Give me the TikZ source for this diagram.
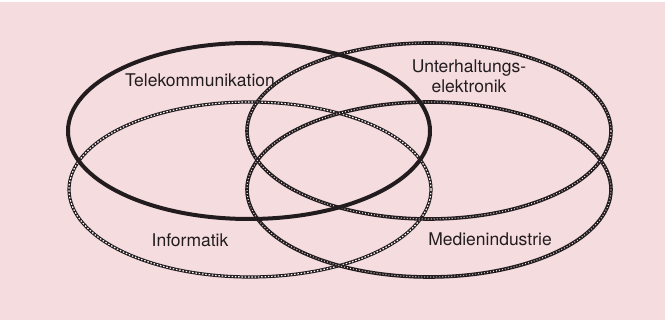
\documentclass[tikz,border=0pt]{standalone}
\usepackage{fontspec}
\setmainfont{TeX Gyre Heros}
\definecolor{bgpink}{HTML}{F5DCDF}
\definecolor{ink}{HTML}{221C1E}
\begin{document}
\begin{tikzpicture}[x=1pt,y=-1pt,
  solidring/.style={draw=ink,line width=4pt},
  ropebase/.style={draw=ink,line width=3.6pt},
  ropeover/.style={draw=bgpink!50!white,line width=1.1pt,dash pattern=on 0.8pt off 2.2pt},
  chainbase/.style={draw=ink,line width=3.2pt},
  chainover/.style={draw=white!85!bgpink,line width=1.2pt,dash pattern=on 1.5pt off 1.8pt},
  lbl/.style={font=\fontsize{17.5}{20}\selectfont,text=ink,inner sep=0pt,align=center}]
\useasboundingbox (0,0) rectangle (665,320);
\fill[bgpink] (0,0) rectangle (665,320);
\fill[white] (0,0) rectangle (665,2.5);
% ring centres
\coordinate (ct) at (249,131);
\coordinate (ci) at (250,189.5);
\coordinate (cu) at (429,131);
\coordinate (cm) at (429,189.5);
% Informatik (chain)
\draw[chainbase] (ci) ellipse [x radius=181,y radius=87.5];
\draw[chainover] (ci) ellipse [x radius=181,y radius=87.5];
% Medienindustrie (rope)
\draw[ropebase] (cm) ellipse [x radius=182,y radius=87.5];
\draw[ropeover] (cm) ellipse [x radius=182,y radius=87.5];
% Unterhaltungselektronik (rope)
\draw[ropebase] (cu) ellipse [x radius=182,y radius=88];
\draw[ropeover] (cu) ellipse [x radius=182,y radius=88];
% Telekommunikation (solid)
\draw[solidring] (ct) ellipse [x radius=181,y radius=88];
% labels
\node[lbl] (tel) at (200,80) {Telekommunikation};
\node[lbl] (unt) at (469,76) {Unterhaltungs-\\elektronik};
\node[lbl] (inf) at (190,240) {Informatik};
\node[lbl] (med) at (490,239) {Medienindustrie};
\end{tikzpicture}
\end{document}
